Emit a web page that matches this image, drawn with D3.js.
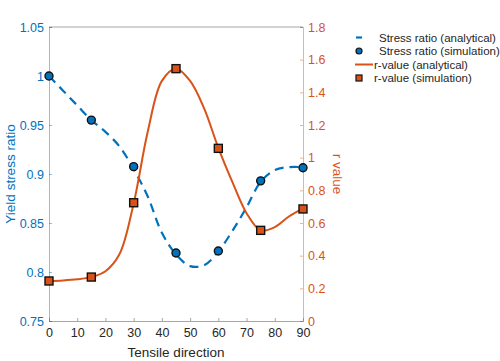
<!DOCTYPE html>
<html>
<head>
<meta charset="utf-8">
<script src="https://cdn.jsdelivr.net/npm/d3@7"></script>
<style>
  body { margin: 0; background: #fff; }
  text { font-family: "Liberation Sans", Arial, sans-serif; }
</style>
</head>
<body>
<div id="chart"></div>
<script>
  // analytical curves, every 5 degrees
  const angles = [0, 5, 10, 15, 20, 25, 30, 35, 40, 45, 50, 55, 60, 65, 70, 75, 80, 85, 90];
  const stressAnalytical = [1.0, 0.985, 0.970, 0.955, 0.943, 0.928, 0.905, 0.877, 0.840, 0.818, 0.806, 0.807, 0.821, 0.842, 0.866, 0.892, 0.904, 0.907, 0.907];
  const rAnalytical = [0.245, 0.248, 0.255, 0.27, 0.305, 0.41, 0.72, 1.16, 1.47, 1.545, 1.47, 1.30, 1.06, 0.85, 0.66, 0.555, 0.575, 0.64, 0.69];

  // simulation points
  const simAngles = [0, 15, 30, 45, 60, 75, 90];
  const stressSim = [1.0, 0.955, 0.9075, 0.8194, 0.8214, 0.893, 0.9064];
  const rSim = [0.245, 0.269, 0.724, 1.545, 1.057, 0.555, 0.686];

  const xTicks = [0, 10, 20, 30, 40, 50, 60, 70, 80, 90];
  const leftTicks = [0.75, 0.8, 0.85, 0.9, 0.95, 1, 1.05];
  const rightTicks = [0, 0.2, 0.4, 0.6, 0.8, 1, 1.2, 1.4, 1.6, 1.8];

  const legendLabels = ["Stress ratio (analytical)", "Stress ratio (simulation)", "r-value (analytical)", "r-value (simulation)"];

  const blue = "#0072BD";
  const orange = "#D95319";

  const w = 500, h = 361;
  const pL = 49, pR = 303, pT = 27, pB = 321;

  const svg = d3.select("#chart").append("svg")
    .attr("width", w)
    .attr("height", h);

  const x = d3.scaleLinear().domain([0, 90]).range([pL, pR]);
  const yL = d3.scaleLinear().domain([0.75, 1.05]).range([pB, pT]);
  const yR = d3.scaleLinear().domain([0, 1.8]).range([pB, pT]);

  // box top
  svg.append("line").attr("x1", pL).attr("x2", pR).attr("y1", pT).attr("y2", pT)
    .style("stroke", "#a6a6a6").style("stroke-width", "1px");

  // bottom axis
  const xAxis = svg.append("g")
    .attr("transform", `translate(0,${pB})`)
    .call(d3.axisBottom(x).tickValues(xTicks).tickSize(-3).tickPadding(7));
  xAxis.select(".domain").style("stroke", "#a6a6a6");
  xAxis.selectAll(".tick line").style("stroke", "#a6a6a6");
  xAxis.selectAll("text").style("font-size", "12.5px").style("fill", "#262626");

  // left axis
  const yAxisL = svg.append("g")
    .attr("transform", `translate(${pL},0)`)
    .call(d3.axisLeft(yL).tickValues(leftTicks).tickFormat(d3.format("")).tickSize(-3).tickPadding(5));
  yAxisL.select(".domain").style("stroke", blue).style("stroke-opacity", 0.45);
  yAxisL.selectAll(".tick line").style("stroke", blue).style("stroke-opacity", 0.45);
  yAxisL.selectAll("text").style("font-size", "12.5px").style("fill", blue);

  // right axis
  const yAxisR = svg.append("g")
    .attr("transform", `translate(${pR},0)`)
    .call(d3.axisRight(yR).tickValues(rightTicks).tickFormat(d3.format("")).tickSize(-3).tickPadding(5));
  yAxisR.select(".domain").style("stroke", orange).style("stroke-opacity", 0.45);
  yAxisR.selectAll(".tick line").style("stroke", orange).style("stroke-opacity", 0.45);
  yAxisR.selectAll("text").style("font-size", "12.5px").style("fill", orange);

  // axis labels
  svg.append("text").attr("x", (pL + pR) / 2).attr("y", 357)
    .attr("text-anchor", "middle").style("font-size", "13.5px").style("fill", "#262626")
    .text("Tensile direction");
  svg.append("text").attr("transform", `translate(15,${(pT + pB) / 2}) rotate(-90)`)
    .attr("text-anchor", "middle").style("font-size", "13.5px").style("fill", blue)
    .text("Yield stress ratio");
  svg.append("text").attr("transform", `translate(333,${(pT + pB) / 2}) rotate(90)`)
    .attr("text-anchor", "middle").style("font-size", "13.5px").style("fill", orange)
    .text("r value");

  // curves
  const stressLine = d3.line()
    .x((d, i) => x(angles[i]))
    .y(d => yL(d))
    .curve(d3.curveCatmullRom.alpha(0.5));
  const rLine = d3.line()
    .x((d, i) => x(angles[i]))
    .y(d => yR(d))
    .curve(d3.curveCatmullRom.alpha(0.5));

  svg.append("path").attr("d", stressLine(stressAnalytical))
    .style("fill", "none").style("stroke", blue).style("stroke-width", "2.2px")
    .style("stroke-dasharray", "9,6");

  svg.append("path").attr("d", rLine(rAnalytical))
    .style("fill", "none").style("stroke", orange).style("stroke-width", "2px");

  // simulation markers
  svg.selectAll("circle.sim").data(stressSim).enter().append("circle")
    .attr("class", "sim")
    .attr("cx", (d, i) => x(simAngles[i]))
    .attr("cy", d => yL(d))
    .attr("r", 4)
    .style("fill", blue).style("stroke", "#111").style("stroke-width", "1.4px");

  svg.selectAll("rect.sim").data(rSim).enter().append("rect")
    .attr("class", "sim")
    .attr("x", (d, i) => x(simAngles[i]) - 4)
    .attr("y", d => yR(d) - 4)
    .attr("width", 8).attr("height", 8)
    .style("fill", orange).style("stroke", "#111").style("stroke-width", "1.4px");

  // legend
  const legY = [37.5, 51, 64.5, 78];
  const lg = svg.append("g");
  lg.append("line").attr("x1", 356).attr("x2", 362).attr("y1", legY[0]).attr("y2", legY[0])
    .style("stroke", blue).style("stroke-width", "2.2px");
  lg.append("circle").attr("cx", 359).attr("cy", legY[1]).attr("r", 3)
    .style("fill", blue).style("stroke", "#111").style("stroke-width", "1.2px");
  lg.append("line").attr("x1", 355).attr("x2", 373).attr("y1", legY[2]).attr("y2", legY[2])
    .style("stroke", orange).style("stroke-width", "2px");
  lg.append("rect").attr("x", 356).attr("y", legY[3] - 3).attr("width", 6).attr("height", 6)
    .style("fill", orange).style("stroke", "#111").style("stroke-width", "1.2px");
  legendLabels.forEach((t, i) => {
    lg.append("text").attr("x", i < 2 ? 379 : 374).attr("y", legY[i])
      .attr("dy", "0.35em").style("font-size", "11.5px").style("fill", "#262626")
      .text(t);
  });
</script>
</body>
</html>
